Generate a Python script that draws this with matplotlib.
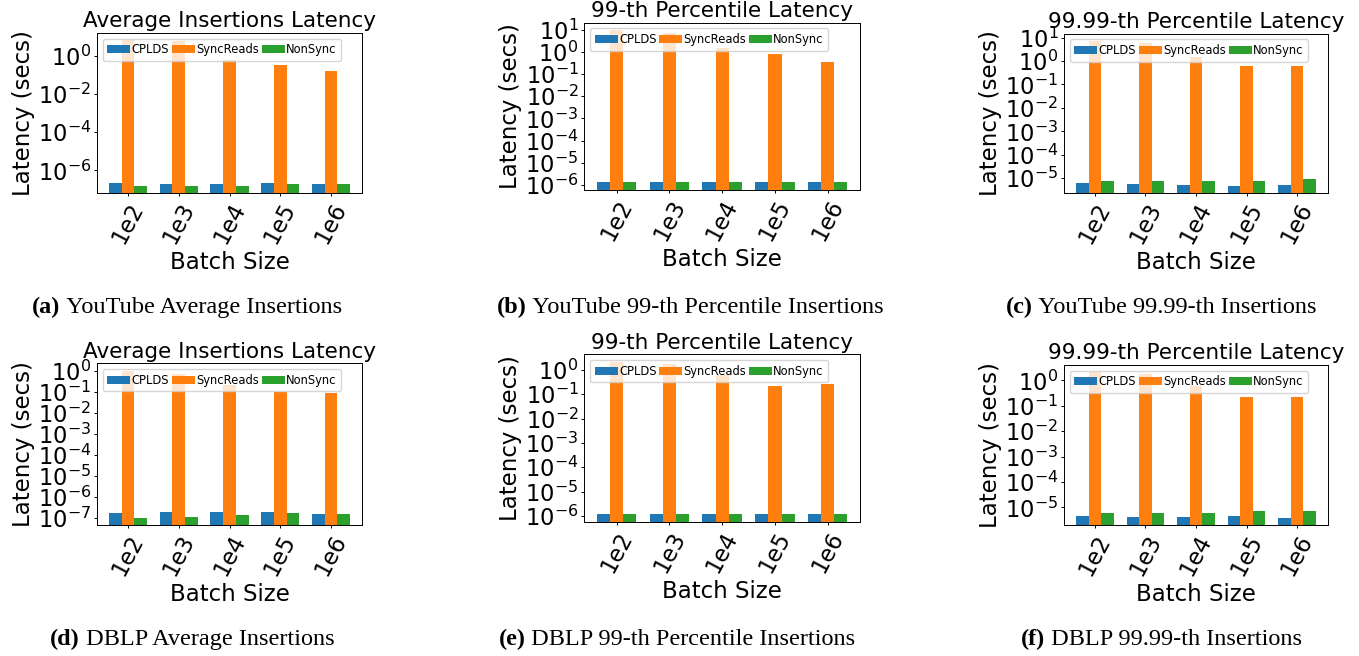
import matplotlib
matplotlib.use('Agg')
import matplotlib.pyplot as plt
import numpy as np

W, H = 1359, 656

# ---------------- data ----------------
batch_labels = ['1e2', '1e3', '1e4', '1e5', '1e6']
series_names = ['CPLDS', 'SyncReads', 'NonSync']

# (a) YouTube average insertions latency
yt_avg_cplds = [2.1e-7, 1.9e-7, 1.9e-7, 2.1e-7, 1.9e-7]
yt_avg_sync = [6.6, 6.0, 0.59, 0.33, 0.16]
yt_avg_nonsync = [1.5e-7, 1.5e-7, 1.5e-7, 1.9e-7, 1.9e-7]

# (b) YouTube 99-th percentile
yt_p99_cplds = [1.3e-6, 1.3e-6, 1.3e-6, 1.3e-6, 1.3e-6]
yt_p99_sync = [9.5, 7.0, 1.47, 0.81, 0.35]
yt_p99_nonsync = [1.3e-6, 1.3e-6, 1.3e-6, 1.3e-6, 1.3e-6]

# (c) YouTube 99.99-th percentile
yt_p9999_cplds = [6.1e-6, 5.5e-6, 5.0e-6, 4.6e-6, 5.0e-6]
yt_p9999_sync = [7.2, 5.9, 1.5, 0.63, 0.63]
yt_p9999_nonsync = [7.9e-6, 7.2e-6, 7.9e-6, 7.9e-6, 8.8e-6]

# (d) DBLP average insertions latency
db_avg_cplds = [1.67e-7, 1.86e-7, 1.86e-7, 1.86e-7, 1.5e-7]
db_avg_sync = [1.07, 0.78, 0.22, 0.10, 0.087]
db_avg_nonsync = [9.6e-8, 1.08e-7, 1.34e-7, 1.67e-7, 1.5e-7]

# (e) DBLP 99-th percentile
db_p99_cplds = [1.17e-6, 1.17e-6, 1.17e-6, 1.17e-6, 1.17e-6]
db_p99_sync = [2.1, 1.7, 0.6, 0.21, 0.26]
db_p99_nonsync = [1.17e-6, 1.17e-6, 1.17e-6, 1.17e-6, 1.17e-6]

# (f) DBLP 99.99-th percentile
db_p9999_cplds = [4.5e-6, 4.1e-6, 4.1e-6, 4.5e-6, 3.8e-6]
db_p9999_sync = [2.1, 1.8, 0.61, 0.22, 0.22]
db_p9999_nonsync = [5.9e-6, 5.9e-6, 5.9e-6, 7.1e-6, 7.1e-6]

titles = ['Average Insertions Latency', '99-th Percentile Latency', '99.99-th Percentile Latency',
          'Average Insertions Latency', '99-th Percentile Latency', '99.99-th Percentile Latency']

ytick_sets = [
    [1e0, 1e-2, 1e-4, 1e-6],
    [1e1, 1e0, 1e-1, 1e-2, 1e-3, 1e-4, 1e-5, 1e-6],
    [1e1, 1e0, 1e-1, 1e-2, 1e-3, 1e-4, 1e-5],
    [1e0, 1e-1, 1e-2, 1e-3, 1e-4, 1e-5, 1e-6, 1e-7],
    [1e0, 1e-1, 1e-2, 1e-3, 1e-4, 1e-5, 1e-6],
    [1e0, 1e-1, 1e-2, 1e-3, 1e-4, 1e-5],
]

caption_tags = ['(a)', '(b)', '(c)', '(d)', '(e)', '(f)']
caption_texts = ['YouTube Average Insertions', 'YouTube 99-th Percentile Insertions',
                 'YouTube 99.99-th Insertions', 'DBLP Average Insertions',
                 'DBLP 99-th Percentile Insertions', 'DBLP 99.99-th Insertions']

panels = [
    (yt_avg_cplds, yt_avg_sync, yt_avg_nonsync),
    (yt_p99_cplds, yt_p99_sync, yt_p99_nonsync),
    (yt_p9999_cplds, yt_p9999_sync, yt_p9999_nonsync),
    (db_avg_cplds, db_avg_sync, db_avg_nonsync),
    (db_p99_cplds, db_p99_sync, db_p99_nonsync),
    (db_p9999_cplds, db_p9999_sync, db_p9999_nonsync),
]

# ---------------- layout (pixel boxes: left, top, right, bottom) ----------------
boxes = [(97, 33, 362, 193.3), (584.3, 22.7, 860, 190), (1064, 33.7, 1328, 193.3),
         (97, 363.3, 362, 525.3), (584.3, 354.3, 860, 522), (1064, 365, 1328, 525.3)]
caption_pos = [(187, 313), (690, 313), (1161, 313), (192.5, 645), (677, 645), (1161, 645)]

TITLE_FS = 15.5
LABEL_FS = 16.5
TICK_FS = 16.3
LEG_FS = 8.3
CAP_FS = 17.5

colors = ['#1f77b4', '#ff7f0e', '#2ca02c']

plt.rcParams['axes.linewidth'] = 0.7

fig = plt.figure(figsize=(W / 100, H / 100), dpi=100)

x = np.arange(len(batch_labels))
bw = 0.25
for i, (box, series) in enumerate(zip(boxes, panels)):
    l, t, r, b = box
    ax = fig.add_axes([l / W, 1 - b / H, (r - l) / W, (b - t) / H])
    for k, (vals, name) in enumerate(zip(series, series_names)):
        ax.bar(x + (k - 1) * bw, vals, bw, label=name, color=colors[k])
    ax.set_yscale('log')
    ax.set_yticks(ytick_sets[i])
    ax.set_xticks(x)
    ax.set_xticklabels(batch_labels, rotation=62)
    ax.tick_params(axis='both', which='major', labelsize=TICK_FS, length=2.2, pad=2, width=0.7)
    ax.tick_params(axis='y', which='minor', length=1.3, width=0.5)
    ax.set_title(titles[i], fontsize=TITLE_FS, pad=4)
    ax.set_xlabel('Batch Size', fontsize=LABEL_FS, labelpad=2.3)
    ax.set_ylabel('Latency (secs)', fontsize=LABEL_FS, labelpad=2.3)
    ax.legend(ncol=3, loc='upper left', fontsize=LEG_FS, handletextpad=0.1,
              columnspacing=0.25)

renderer = fig.canvas.get_renderer()
for (cx, cy), tag, txt in zip(caption_pos, caption_tags, caption_texts):
    t1 = fig.text(0, 0, tag, fontfamily='Liberation Serif', fontweight='bold',
                  fontsize=CAP_FS, va='baseline', ha='left')
    t2 = fig.text(0, 0, ' ' + txt, fontfamily='Liberation Serif',
                  fontsize=CAP_FS, va='baseline', ha='left')
    w1 = t1.get_window_extent(renderer).width
    w2 = t2.get_window_extent(renderer).width
    x0 = cx - (w1 + w2) / 2
    t1.set_position((x0 / W, 1 - cy / H))
    t2.set_position(((x0 + w1) / W, 1 - cy / H))

fig.savefig('out.png', dpi=100)
